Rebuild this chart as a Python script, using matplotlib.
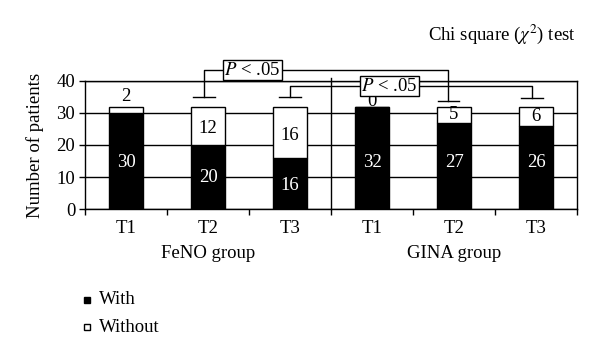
import matplotlib
matplotlib.use("Agg")
import matplotlib.pyplot as plt
from matplotlib.lines import Line2D
import numpy as np

plt.rcParams['font.family'] = ['Liberation Serif', 'DejaVu Serif']
plt.rcParams['mathtext.fontset'] = 'stix'

# Data
categories = ['T1', 'T2', 'T3', 'T1', 'T2', 'T3']
groups = ['FeNO group', 'GINA group']
with_vals = [30, 20, 16, 32, 27, 26]
without_vals = [2, 12, 16, 0, 5, 6]
yticks = [0, 10, 20, 30, 40]

# Layout (label y-positions in data units)
with_label_y = [14.4, 9.7, 7.5, 14.4, 14.4, 14.4]
without_label_y = [35.0, 25.0, 23.0, 33.6, 29.4, 28.8]

fig = plt.figure(figsize=(6.0, 3.55), dpi=100)
ax = fig.add_axes([85/600, 1-209/355, (577-85)/600, (209-81)/355])

x = np.arange(len(categories))
w = 0.41
ax.bar(x, with_vals, width=w, color='black', edgecolor='black', linewidth=1, zorder=3)
ax.bar(x, without_vals, width=w, bottom=with_vals, color='white', edgecolor='black', linewidth=1, zorder=3)

fs = 13.5
for i in range(len(x)):
    ax.text(x[i], with_label_y[i], str(with_vals[i]), color='white', ha='center', va='center', fontsize=fs, zorder=4)
    ax.text(x[i], without_label_y[i], str(without_vals[i]), color='black', ha='center', va='center', fontsize=fs,
            zorder=2 if without_vals[i] == 0 else 4)

ax.set_xlim(-0.5, 5.5)
ax.set_ylim(0, 40)
ax.set_yticks(yticks)
ax.set_xticks(x)
ax.set_xticklabels(categories)
ax.set_xticks(np.arange(-0.5, 6.0, 1.0), minor=True)
ax.tick_params(axis='x', which='major', length=0, pad=8, labelsize=fs)
ax.tick_params(axis='x', which='minor', length=4, width=1, direction='out')
ax.tick_params(axis='y', length=4, width=1, direction='out', labelsize=fs, pad=3)
ax.grid(axis='y', color='black', linewidth=1, zorder=0)
ax.set_axisbelow(True)
for s in ax.spines.values():
    s.set_linewidth(1)

# divider between groups
ax.plot([2.5, 2.5], [0, 40.9], color='black', linewidth=1, clip_on=False, zorder=5)

# group labels
for gi, g in enumerate(groups):
    ax.text(1 + 3*gi, -0.345, g, transform=ax.get_xaxis_transform(), ha='center', va='center', fontsize=fs)

# significance brackets
def bracket(xa, xb, ya, yb, ytop, xbox):
    kw = dict(color='black', linewidth=1, clip_on=False, zorder=5)
    ax.plot([xa, xa, xb, xb], [ya, ytop, ytop, yb], **kw)
    cw = 0.13
    ax.plot([xa-cw, xa+cw], [ya, ya], **kw)
    ax.plot([xb-cw, xb+cw], [yb, yb], **kw)
    ax.text(xbox, ytop, '$P$ < .05', ha='center', va='center', fontsize=fs, zorder=6,
            bbox=dict(boxstyle='square,pad=0.08', facecolor='white', edgecolor='black', linewidth=1))

bracket(x[1] - 0.05, x[4] - 0.07, 35.0, 33.8, 43.4, 1.54)
bracket(x[2], x[5] - 0.05, 35.0, 34.7, 38.4, 3.21)

fig.text(35/600, 1-145/355, 'Number of patients', rotation=90, ha='center', va='center', fontsize=fs)
fig.text(576/600, 1-34/355, r'Chi square ($\chi^2$) test', ha='right', va='center', fontsize=fs)

# legend
fig.add_artist(Line2D([87/600], [1-300/355], marker='s', markersize=5, markerfacecolor='black',
                      markeredgecolor='black', linestyle='none', transform=fig.transFigure))
fig.add_artist(Line2D([87/600], [1-327/355], marker='s', markersize=5, markerfacecolor='white',
                      markeredgecolor='black', markeredgewidth=1, linestyle='none', transform=fig.transFigure))
fig.text(99/600, 1-300/355, 'With', ha='left', va='center', fontsize=fs)
fig.text(99/600, 1-327/355, 'Without', ha='left', va='center', fontsize=fs)

fig.savefig('out.png', dpi=100)
